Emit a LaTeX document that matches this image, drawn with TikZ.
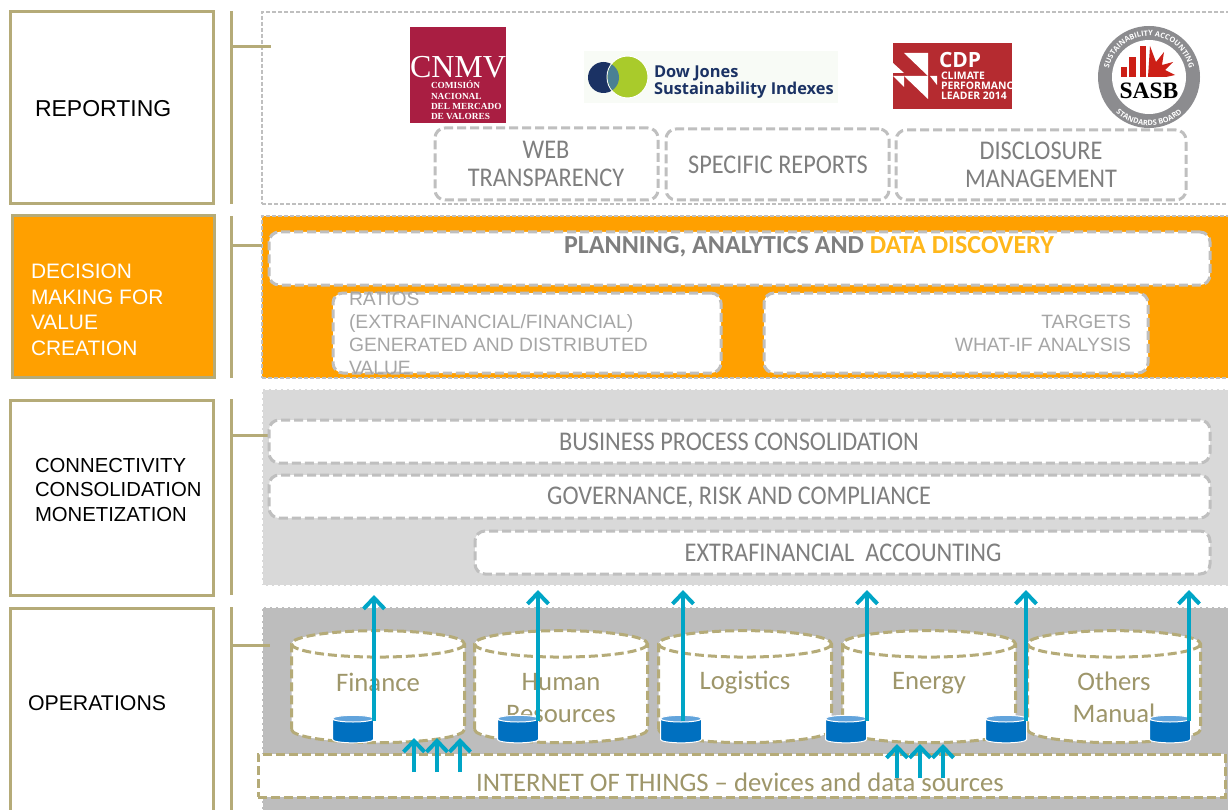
\documentclass[tikz,border=0pt]{standalone}
\usepackage{xcolor}
\usepackage{fontspec}
\setmainfont{Liberation Sans}
\newfontfamily\capsfont{Carlito}
\newfontfamily\softfont[FakeStretch=0.9]{Carlito}
\newfontfamily\logoserif{Liberation Serif}
\newfontfamily\logosans{Open Sans}
\usepackage{tikz}
\usetikzlibrary{arrows.meta, positioning, shapes.geometric, decorations.text}

\definecolor{khaki}{HTML}{B5AB78}
\definecolor{khakitext}{HTML}{9E966A}
\definecolor{dashgray}{HTML}{BFBFBF}
\definecolor{greytext}{HTML}{7F7F7F}
\definecolor{lighttext}{HTML}{A6A6A6}
\definecolor{amber}{HTML}{FFA000}
\definecolor{flowblue}{HTML}{00A5C6}
\definecolor{dbblue}{HTML}{0070C0}
\definecolor{dbtop}{HTML}{62A4DC}
\definecolor{cnmvred}{HTML}{A91E42}
\definecolor{cdpred}{HTML}{B52B30}
\definecolor{sasbred}{HTML}{CC1F16}
\definecolor{djnavy}{HTML}{1B3264}
\definecolor{djgreen}{HTML}{A9CB2B}
\definecolor{djteal}{HTML}{4A8094}
\definecolor{djpale}{HTML}{F8FBF6}
\definecolor{sasbgray}{HTML}{8C8C8F}

\tikzset{
	every node/.style={outer sep=0pt},
	layerbox/.style={draw=khaki, line width=3pt, rectangle, anchor=north west, inner sep=0pt, minimum width=203pt},
	layertext/.style={anchor=west, align=left, inner sep=0pt, font=\fontsize{21.3}{25}\selectfont},
	panel/.style={draw=#1, dash pattern=on 4pt off 2pt, line width=1.2pt, rectangle, anchor=north west, inner sep=0pt},
	softbox/.style={draw=dashgray, line width=3pt, dash pattern=on 9pt off 4pt, fill=white, rounded corners=10pt, rectangle, anchor=north west, inner sep=0pt},
	softtext/.style={font=\softfont\fontsize{27}{28}\selectfont, text=greytext, align=center, inner sep=0pt},
	plaintext/.style={font=\fontsize{19.3}{23}\selectfont, text=lighttext, inner sep=0pt, align=left},
	store/.style={cylinder, shape border rotate=90, aspect=0.33, draw=khaki, fill=white, line width=3pt, dash pattern=on 9pt off 4pt, minimum width=173pt, minimum height=112pt, inner sep=0pt},
	storetext/.style={font=\capsfont\fontsize{26.7}{32}\selectfont, text=khakitext, align=center, inner sep=0pt},
	minidb/.style={cylinder, shape border rotate=90, aspect=0.37, draw=white, line width=1pt, cylinder uses custom fill, cylinder body fill=dbblue, cylinder end fill=dbtop, minimum width=41pt, minimum height=27pt, inner sep=0pt},
	feed/.style={draw=flowblue, line width=4pt, -{Straight Barb[length=11pt,width=21pt,line width=0pt 1]}},
	rule/.style={draw=khaki, line width=3pt}
}
\newcommand{\storebody}{\phantom{\rule{80pt}{52pt}}}
\newcommand{\dbbody}{\phantom{\rule{18pt}{17pt}}}

\begin{document}
\begin{tikzpicture}[x=1pt, y=-1pt]
	\useasboundingbox (0,0) rectangle (1228,810);

	% layers on the left
	\node[layerbox, minimum height=192pt] (reporting) at (10.5,12) {};
	\node[layerbox, minimum height=161.5pt, minimum width=202.5pt, fill=amber] (decision) at (12,216) {};
	\node[layerbox, minimum height=195pt] (connect) at (10.5,400) {};
	\node[layerbox, minimum height=215pt] (operations) at (10.5,608) {};

	\node[layertext, font=\fontsize{23}{27}\selectfont] (reportingtext) at (35,109) {REPORTING};
	\node[layertext, text=white, font=\fontsize{20.9}{25.6}\selectfont] (decisiontext) at (31,310) {DECISION\\MAKING FOR\\VALUE\\CREATION};
	\node[layertext, font=\fontsize{20.3}{24.6}\selectfont] (connecttext) at (35,490) {CONNECTIVITY\\CONSOLIDATION\\MONETIZATION};
	\node[layertext] (operationstext) at (28,703) {OPERATIONS};

	% panels on the right
	\node[panel=dashgray, fill=white, minimum width=967pt, minimum height=192pt] (reportpanel) at (262,12) {};
	\node[panel=dashgray, fill=amber, minimum width=967pt, minimum height=162pt] (decisionpanel) at (262,216) {};
	\node[panel=white, fill=black!15, minimum width=967pt, minimum height=197pt] (connectpanel) at (262,389) {};
	\node[panel=white, fill=black!26, minimum width=967pt, minimum height=210pt] (operationpanel) at (262,607) {};

	% bars and ticks
	\foreach \n/\t/\b/\y/\e in {a/11/204/47/271, b/216/378/246/262, c/399/595/435/270, d/607/810/645/270}{
		\coordinate (bartop\n) at (231,\t);
		\coordinate (barbot\n) at (231,\b);
		\coordinate (tickin\n) at (231,\y);
		\coordinate (tickout\n) at (\e,\y);
		\draw[rule] (bartop\n) -- (barbot\n);
		\draw[rule] (tickin\n) -- (tickout\n);
	}

	% logos
	\node[rectangle, fill=cnmvred, anchor=north west, minimum width=96pt, minimum height=96pt, inner sep=0pt] (cnmv) at (410,27) {};
	\node[text=white, inner sep=0pt, font=\logoserif\fontsize{35}{35}\selectfont] (cnmvname) at (458,67) {\resizebox{96pt}{!}{CNMV}};
	\node[text=white, anchor=north west, align=left, inner sep=0pt, font=\logoserif\bfseries\fontsize{9.3}{10.3}\selectfont] (cnmvlong) at (431,81) {COMISIÓN\\NACIONAL\\DEL MERCADO\\DE VALORES};

	\node[rectangle, fill=djpale, anchor=north west, minimum width=254pt, minimum height=52pt, inner sep=0pt] (djback) at (584,51) {};
	\node[ellipse, fill=djnavy, minimum width=31pt, minimum height=31pt, inner sep=0pt] (djdark) at (603.5,77.5) {};
	\node[ellipse, fill=djgreen, draw=white, line width=1pt, minimum width=41pt, minimum height=42pt, inner sep=0pt] (djring) at (627.5,77) {};
	\begin{scope}
		\clip (djring.center) ellipse[x radius=20pt, y radius=20.5pt];
		\fill[djteal] (djdark.center) ellipse[x radius=15.5pt, y radius=15.5pt];
	\end{scope}
	\node[anchor=north west, align=left, inner sep=0pt, text=djnavy, font=\logosans\bfseries\fontsize{16.4}{15.5}\selectfont] (djtext) at (654,65.5) {Dow Jones\\Sustainability Indexes};

	\node[rectangle, fill=cdpred, anchor=north west, minimum width=119pt, minimum height=66pt, inner sep=0pt] (cdp) at (893,43) {};
	\fill[white] (904,53) -- (928,53) -- (928,76) -- cycle;
	\fill[white] (893,63) -- (904,73) -- (893,73) -- cycle;
	\fill[white] (893,76) -- (904,76) -- (904,87) -- cycle;
	\fill[white] (904,76) -- (928,76) -- (928,99) -- cycle;
	\fill[white] (930,76) -- (937,76) -- (937,85) -- cycle;
	\node[text=white, anchor=north west, inner sep=0pt, font=\logosans\bfseries\fontsize{21}{21}\selectfont] (cdpname) at (939,52) {CDP};
	\node[text=white, anchor=north west, align=left, inner sep=0pt, font=\logosans\bfseries\fontsize{10.4}{10.2}\selectfont] (cdplong) at (941,72) {CLIMATE\\[0pt]PERFORMANC\\LEADER 2014};

	\node[circle, fill=sasbgray, minimum size=102pt, inner sep=0pt] (sasb) at (1149,77) {};
	\node[circle, fill=white, minimum size=74pt, inner sep=0pt] (sasbinner) at (1149,77) {};
	\path[decorate, decoration={text along path, text align=center, text color=white, text={|\logosans\bfseries\fontsize{7.4}{8}\selectfont|SUSTAINABILITY ACCOUNTING}}]
		(1108,77) arc[start angle=180, end angle=0, radius=41pt];
	\path[decorate, decoration={text along path, text align=center, text color=white, text={|\logosans\bfseries\fontsize{7.4}{8}\selectfont|STANDARDS BOARD}}]
		(1102,90) arc[start angle=196, end angle=344, radius=49pt];
	\fill[sasbred] (1121,67) rectangle (1127,77);
	\fill[sasbred] (1129,57) rectangle (1136,77);
	\fill[sasbred] (1140,46) rectangle (1146,77);
	\fill[sasbred] (1148,77) -- (1150,46) -- (1156,62) -- (1164,52) -- (1162,65) -- (1173,62) -- (1165,70) -- (1175,75) -- (1166,77) -- cycle;
	\node[inner sep=0pt, font=\logoserif\bfseries\fontsize{23.5}{23.5}\selectfont] (sasbname) at (1149,91) {SASB};

	% reporting boxes
	\node[softbox, minimum width=223pt, minimum height=72pt] (web) at (435,128) {};
	\node[softbox, minimum width=223pt, minimum height=71pt] (specific) at (666,129) {};
	\node[softbox, minimum width=290pt, minimum height=70pt] (disclosure) at (896,130) {};
	\node[softtext] (webtext) at (546,164) {WEB\\TRANSPARENCY};
	\node[softtext] (specifictext) at (778,165) {SPECIFIC REPORTS};
	\node[softtext] (disclosuretext) at (1041,165) {DISCLOSURE\\MANAGEMENT};

	% decision boxes
	\node[softbox, minimum width=941pt, minimum height=53pt] (planning) at (269,232) {};
	\node[softbox, minimum width=388pt, minimum height=80pt] (ratios) at (333,293) {};
	\node[softbox, minimum width=384pt, minimum height=80pt] (targets) at (764,293) {};
	\node[softtext, font=\capsfont\bfseries\fontsize{26}{28}\selectfont] (planningtext) at (809,246.5) {PLANNING, ANALYTICS AND \textcolor[HTML]{FFB71B}{DATA DISCOVERY}};
	\node[plaintext, anchor=west] (ratiostext) at (349,333) {RATIOS\\(EXTRAFINANCIAL/FINANCIAL)\\GENERATED AND DISTRIBUTED\\VALUE};
	\node[plaintext, anchor=east, align=right] (targetstext) at (1131,333) {TARGETS\\WHAT-IF ANALYSIS};

	% consolidation boxes
	\node[softbox, minimum width=941pt, minimum height=43pt] (process) at (269,420) {};
	\node[softbox, minimum width=941pt, minimum height=43pt] (governance) at (269,475) {};
	\node[softbox, minimum width=735pt, minimum height=43pt] (extra) at (475,531) {};
	\node[softtext] (processtext) at (739,442) {BUSINESS PROCESS CONSOLIDATION};
	\node[softtext] (governancetext) at (739,497) {GOVERNANCE, RISK AND COMPLIANCE};
	\node[softtext] (extratext) at (843,553) {EXTRAFINANCIAL~ ACCOUNTING};

	% stores
	\node[store] (finance) at (378,694) {\storebody};
	\node[store] (human) at (561,694) {\storebody};
	\node[store] (logistics) at (745,694) {\storebody};
	\node[store] (energy) at (929,694) {\storebody};
	\node[store] (others) at (1114,694) {\storebody};
	\node[storetext] (financetext) at (378,682) {Finance};
	\node[storetext] (humantext) at (561,698) {Human\\Resources};
	\node[storetext] (logisticstext) at (745,683) {Logistics};
	\node[storetext] (energytext) at (929,683) {Energy};
	\node[storetext] (otherstext) at (1114,697) {Others\\Manual};

	% internet of things
	\node[draw=khaki, line width=3pt, dash pattern=on 9pt off 4pt, fill=white, rectangle, anchor=north west, minimum width=967pt, minimum height=43pt, inner sep=0pt] (iot) at (258,754) {};
	\node[storetext] (iottext) at (740,782) {INTERNET OF THINGS – devices and data sources};

	% small databases
	\node[minidb] (dbfinance) at (353,731) {\dbbody};
	\node[minidb] (dbhuman) at (518,731) {\dbbody};
	\node[minidb] (dblogistics) at (681,731) {\dbbody};
	\node[minidb] (dbenergy) at (846,731) {\dbbody};
	\node[minidb] (dbothers) at (1006,731) {\dbbody};
	\node[minidb] (dbmanual) at (1170,731) {\dbbody};

	% flows up
	\foreach \n/\d/\y in {finance/21/595, human/20/590, logistics/2/590, energy/21/590, others/20/590, manual/19/590}{
		\coordinate (foot\n) at ([xshift=\d pt, yshift=10pt]db\n.center);
		\coordinate (up\n) at (foot\n |- 0,\y);
		\draw[feed] (foot\n) -- (up\n);
	}
	\foreach \n/\x/\s/\e in {a/414/772/738, b/437/772/738, c/460/772/738, d/897/778/744, e/920/778/744, f/943/778/744}{
		\coordinate (iotfoot\n) at (\x,\s);
		\coordinate (iothead\n) at (\x,\e);
		\draw[feed] (iotfoot\n) -- (iothead\n);
	}
\end{tikzpicture}
\end{document}
